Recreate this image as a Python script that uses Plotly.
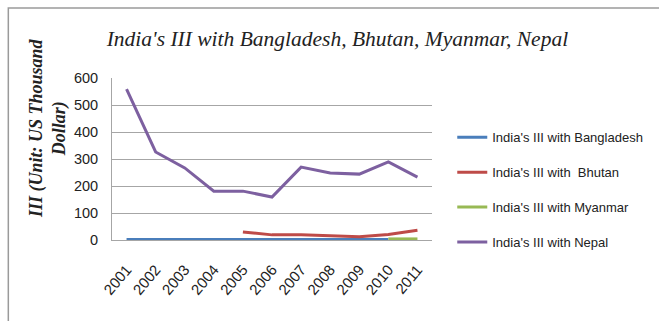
import plotly.graph_objects as go

years = ["2001", "2002", "2003", "2004", "2005", "2006", "2007", "2008", "2009", "2010", "2011"]
bangladesh = [2, 2, 2, 2, 2, 2, 2, 2, 2, 2, None]
bhutan = [None, None, None, None, 30, 19, 19, 15, 12, 20, 36]
myanmar = [None, None, None, None, None, None, None, None, None, 4, 4]
nepal = [559, 326, 267, 181, 181, 159, 270, 248, 244, 289, 233]

series = [
    ("India's III with Bangladesh", bangladesh, "#4A7EBB"),
    ("India's III with  Bhutan", bhutan, "#BE4B48"),
    ("India's III with Myanmar", myanmar, "#98B954"),
    ("India's III with Nepal", nepal, "#7D60A0"),
]

sans = "Liberation Sans Narrow, Arial Narrow, sans-serif"
serif = "Liberation Serif, Times New Roman, serif"
ytick_font = dict(family=sans, size=14.5, color="#222222")
xtick_font = dict(family=sans, size=15, color="#222222")
legend_font = dict(family=sans, size=13, color="#222222")

fig = go.Figure()
for i, (name, vals, color) in enumerate(series):
    fig.add_trace(go.Scatter(
        x=years, y=vals, mode="lines", name=name,
        line=dict(color=color, width=3),
        legendgroup=f"g{i}",
    ))

fig.update_layout(
    width=659, height=321,
    margin=dict(l=112, r=226, t=78, b=81),
    paper_bgcolor="white", plot_bgcolor="white",
    title=dict(
        text="<i>India's III with Bangladesh, Bhutan, Myanmar, Nepal</i>",
        font=dict(family=serif, size=21.5, color="#222222"),
        x=0.512, xanchor="center", y=0.88, yanchor="middle",
    ),
    legend=dict(
        x=1.06, xanchor="left", y=0.31, yanchor="middle",
        font=legend_font, traceorder="grouped", tracegroupgap=15,
        bgcolor="rgba(0,0,0,0)",
    ),
    xaxis=dict(
        type="category", tickangle=-50, tickfont=xtick_font, range=[-0.5, 10.5],
        showgrid=False, showline=True, linecolor="#a6a6a6", linewidth=1,
        ticks="", zeroline=False, ticklabelstandoff=14,
    ),
    yaxis=dict(
        range=[0, 600], tick0=0, dtick=100, tickfont=ytick_font,
        showgrid=True, gridcolor="#a6a6a6", gridwidth=1,
        showline=True, linecolor="#a6a6a6", linewidth=1,
        zeroline=False, ticks="", ticklabelstandoff=10,
    ),
    annotations=[dict(
        text="<b><i>III (Unit: US Thousand<br>Dollar)</i></b>",
        font=dict(family=serif, size=18, color="#222222"),
        textangle=-90, xref="paper", yref="paper",
        x=-0.2, y=0.691, xanchor="center", yanchor="middle",
        showarrow=False,
    )],
    shapes=[dict(
        type="rect", xref="paper", yref="paper",
        x0=-0.324, x1=1.9, y0=-0.7, y1=1.432,
        line=dict(color="#9a9a9a", width=1.5), fillcolor="rgba(0,0,0,0)", layer="below",
    )],
)

fig.write_html("out.html")
